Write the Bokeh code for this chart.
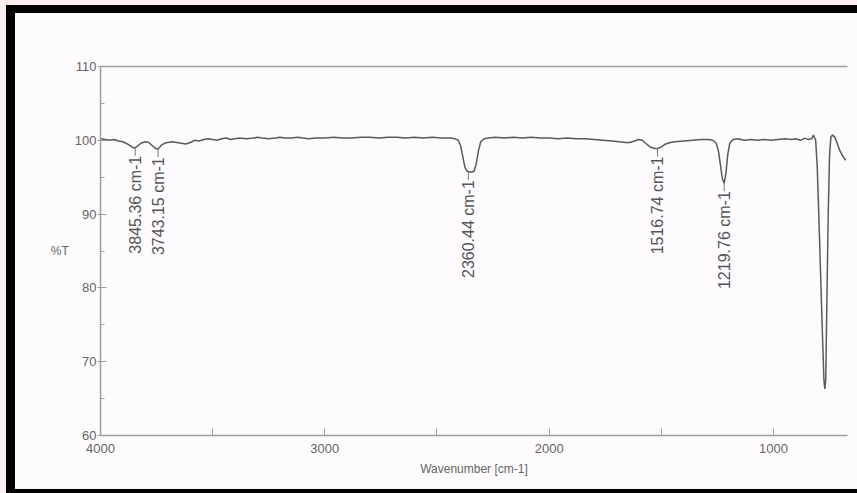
import math
from bokeh.plotting import figure
from bokeh.models import FixedTicker, LinearAxis, Range1d, ColumnDataSource
from bokeh.layouts import column
from bokeh.core.properties import value
from bokeh.embed import file_html
from bokeh.resources import INLINE

# ---- data ----
wavenumber = [4000, 3980, 3960, 3940, 3920, 3900, 3880, 3865, 3855, 3845, 3835, 3820, 3800, 3785,
              3770, 3755, 3743, 3730, 3715, 3700, 3680, 3660, 3640, 3620, 3600, 3580, 3560, 3540,
              3520, 3500, 3480, 3460, 3440, 3420, 3400, 3380, 3350, 3320, 3300, 3280, 3250, 3220,
              3200, 3180, 3150, 3120, 3100, 3070, 3040, 3000, 2960, 2920, 2880, 2840, 2800, 2760,
              2720, 2680, 2640, 2600, 2560, 2520, 2480, 2440, 2420, 2405, 2395, 2385, 2375, 2365,
              2355, 2345, 2335, 2325, 2315, 2305, 2290, 2270, 2240, 2200, 2160, 2120, 2080, 2040,
              2000, 1960, 1920, 1880, 1840, 1800, 1760, 1720, 1690, 1660, 1640, 1620, 1600, 1585,
              1570, 1550, 1530, 1516, 1500, 1480, 1460, 1440, 1400, 1360, 1320, 1290, 1270, 1255,
              1245, 1237, 1228, 1220, 1212, 1204, 1195, 1180, 1160, 1130, 1100, 1070, 1040, 1010,
              980, 950, 920, 900, 880, 860, 845, 830, 822, 812, 805, 797, 789, 781, 775, 771, 767,
              762, 756, 750, 744, 736, 726, 716, 704, 690, 678]
transmittance = [100.2, 100.1, 100.0, 100.1, 99.9, 99.8, 99.5, 99.2, 99.0, 99.0, 99.2, 99.6, 99.8, 99.7,
                 99.3, 98.9, 98.8, 99.3, 99.6, 99.7, 99.8, 99.7, 99.6, 99.5, 99.7, 100.0, 99.9, 100.1,
                 100.2, 100.1, 100.0, 100.2, 100.3, 100.1, 100.2, 100.3, 100.2, 100.3, 100.4, 100.3, 100.2, 100.3,
                 100.4, 100.3, 100.3, 100.4, 100.3, 100.2, 100.3, 100.3, 100.4, 100.3, 100.3, 100.4, 100.4, 100.3,
                 100.4, 100.4, 100.3, 100.4, 100.3, 100.4, 100.3, 100.3, 100.2, 100.0, 99.3, 97.8, 96.3, 95.8,
                 95.7, 95.7, 95.8, 96.8, 98.6, 99.8, 100.2, 100.3, 100.4, 100.3, 100.4, 100.3, 100.4, 100.3,
                 100.3, 100.2, 100.3, 100.2, 100.2, 100.1, 100.0, 99.9, 99.8, 99.7, 99.7, 99.9, 100.1, 100.0,
                 99.6, 99.1, 98.9, 98.9, 99.1, 99.5, 99.7, 99.8, 99.9, 100.0, 100.1, 100.1, 100.0, 99.6,
                 98.5, 96.8, 94.8, 94.2, 95.5, 98.0, 99.6, 100.1, 100.2, 100.0, 100.1, 100.0, 100.1, 100.0,
                 100.1, 100.2, 100.1, 100.2, 100.0, 100.3, 100.1, 100.2, 100.7, 100.0, 96.5, 89.0, 81.0, 73.0, 67.5, 66.3, 67.5,
                 78.0, 90.0, 98.0, 100.5, 100.7, 100.4, 99.6, 98.6, 97.8, 97.3]

peak_wn = [3845.36, 3743.15, 2360.44, 1516.74, 1219.76]
peak_T = [99.0, 98.8, 95.7, 98.9, 94.2]
peak_labels = ["%.2f cm-1" % w for w in peak_wn]

x_major = [4000, 3000, 2000, 1000]
x_minor = [3500, 2500, 1500]
y_major = [60, 70, 80, 90, 100, 110]
y_minor = [65, 75, 85, 95, 105]

# ---- figure ----
bg = "#fdfbfd"
p = figure(width=842, height=476, x_range=Range1d(4000, 670), y_range=Range1d(60, 110),
           output_backend="svg", toolbar_location=None,
           min_border_left=85, min_border_right=10, min_border_top=53, min_border_bottom=54,
           background_fill_color=bg, border_fill_color=bg)
p.outline_line_color = None
p.grid.visible = False

axis_col = "#a0a0a0"
lab_col = "#666666"
font = "Liberation Sans"

p.xaxis.ticker = FixedTicker(ticks=x_major, minor_ticks=x_minor)
p.yaxis.ticker = FixedTicker(ticks=y_major, minor_ticks=y_minor)
for ax in (p.xaxis, p.yaxis):
    ax.axis_line_color = axis_col
    ax.axis_line_width = 1.5
    ax.major_tick_line_color = axis_col
    ax.minor_tick_line_color = axis_col
    ax.major_label_text_font = font
    ax.major_label_text_font_size = "13px"
    ax.major_label_text_color = lab_col
    ax.axis_label_text_font = font
    ax.axis_label_text_font_size = "12px"
    ax.axis_label_text_font_style = "normal"
    ax.axis_label_text_color = lab_col

p.xaxis.major_tick_in = 7
p.xaxis.major_tick_out = 0
p.xaxis.minor_tick_in = 7
p.xaxis.minor_tick_out = 0
p.xaxis.major_label_standoff = 8
p.xaxis.axis_label = "Wavenumber [cm-1]"
p.xaxis.axis_label_standoff = 6

p.yaxis.major_tick_in = 6
p.yaxis.major_tick_out = 3
p.yaxis.minor_tick_in = 4
p.yaxis.minor_tick_out = 0
p.yaxis.major_label_standoff = 1
p.yaxis.axis_label = "%T"
p.yaxis.axis_label_orientation = "horizontal"
p.yaxis.axis_label_standoff = 3

top_axis = LinearAxis(ticker=FixedTicker(ticks=[]), axis_line_color=axis_col, axis_line_width=1.5,
                      major_label_text_font_size="0px")
p.add_layout(top_axis, "above")

src = ColumnDataSource(data=dict(x=wavenumber, y=transmittance))
p.line("x", "y", source=src, line_color="#5a5a5a", line_width=1.5)

offset = 1.1
label_y = [t - offset for t in peak_T]
p.segment(x0=peak_wn, y0=peak_T, x1=peak_wn, y1=label_y, line_color="#777777", line_width=1)
p.text(x=peak_wn, y=label_y, text=peak_labels, angle=math.pi / 2,
       text_align="right", text_baseline="middle",
       text_font=value(font), text_font_size="16px", text_color="#555555")

# scanned-page frame: black bands top/left/bottom, pinkish margin outside
inner = column(p, styles={"background-color": bg,
                          "border-top": "8px solid black",
                          "border-left": "9px solid black",
                          "border-bottom": "4px solid black"})
outer = column(inner, styles={"background-color": bg,
                              "border-top": "5px solid #fcedef",
                              "border-left": "6px solid #fcedef"})

open("out.html", "w").write(file_html(outer, INLINE))
